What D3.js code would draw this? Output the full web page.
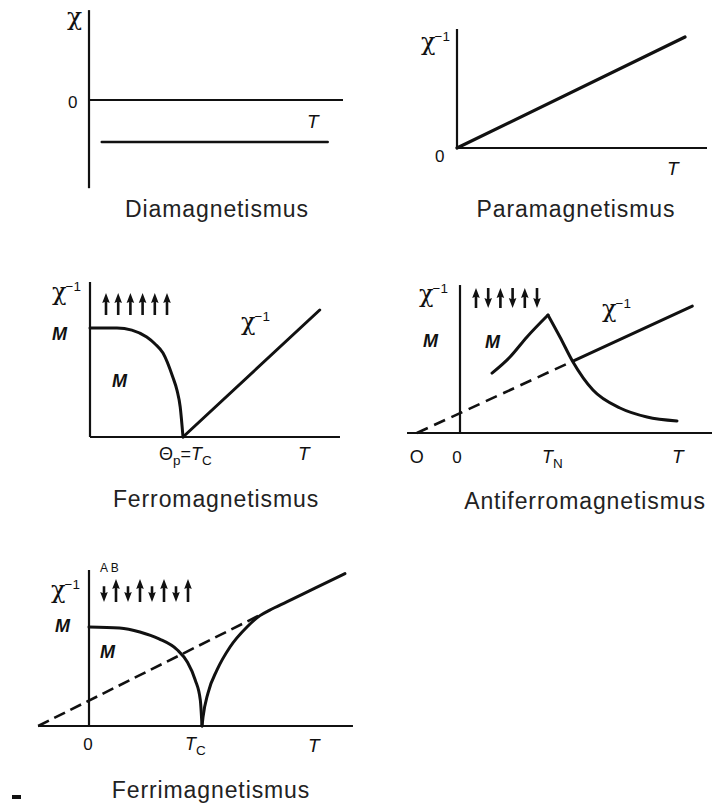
<!DOCTYPE html>
<html>
<head>
<meta charset="utf-8">
<script src="https://cdn.jsdelivr.net/npm/d3@7"></script>
<style>
  body { margin: 0; background: #fff; }
  svg { display: block; }
  .title { font-family: "Liberation Sans", Arial, sans-serif; font-size: 23px; letter-spacing: 0.9px; fill: #222; }
  .lbl { font-family: "Liberation Sans", Arial, sans-serif; fill: #111; }
  .chi { font-family: "DejaVu Serif", "Liberation Serif", serif; fill: #111; }
</style>
</head>
<body>
<svg id="chart" width="712" height="805"></svg>
<script>
// ---- Diamagnetism: chi constant and negative ----
const diaT = [0.05, 0.94];
const diaChi = [-1, -1];

// ---- Paramagnetism: 1/chi linear in T through the origin ----
const paraT = [0, 0.912];
const paraInvChi = [0, 1.11];

// ---- Ferromagnetism (T in units of Tc, M in units of M(0)) ----
const ferroT = [0, 0.29, 0.45, 0.61, 0.70, 0.785, 0.89, 0.935, 0.97, 1.0];
const ferroM = [1, 1, 0.98, 0.917, 0.853, 0.77, 0.55, 0.43, 0.275, 0];
const ferroInvT = [1, 2.47];
const ferroInvChi = [0, 1.165];
const ferroSpins = [1, 1, 1, 1, 1, 1];

// ---- Antiferromagnetism (T in units of T_N) ----
const afmTlow = [0.364, 0.568, 0.761, 1.0];
const afmMlow = [0.508, 0.644, 0.814, 1.0];
const afmThigh = [1.0, 1.136, 1.284, 1.511, 1.818, 2.125, 2.466];
const afmMhigh = [1.0, 0.814, 0.602, 0.364, 0.212, 0.136, 0.102];
const afmDashT = [-0.49, 1.284];
const afmDashChi = [0, 0.61];
const afmInvT = [1.284, 2.64];
const afmInvChi = [0.61, 1.076];
const afmSpins = [1, -1, 1, -1, 1, -1];

// ---- Ferrimagnetism (T in units of Tc) ----
const ferriT = [0, 0.27, 0.45, 0.62, 0.78, 0.87, 0.94, 0.985, 1.0];
const ferriM = [1, 0.99, 0.95, 0.88, 0.77, 0.646, 0.465, 0.263, 0];
const ferriInvT = [1.0, 1.009, 1.053, 1.133, 1.248, 1.398, 1.513, 1.6, 1.75, 2.0, 2.265];
const ferriInvChi = [0, 0.09, 0.333, 0.566, 0.798, 1.0, 1.115, 1.171, 1.254, 1.393, 1.54];
const ferriDashT = [-0.45, 1.50];
const ferriDashChi = [0, 1.113];
const ferriSpins = [-1, 1, -1, 1, -1, 1, -1, 1];
const ferriMoments = [0.68, 1, 0.68, 1, 0.68, 1, 0.68, 1];

const titles = ["Diamagnetismus", "Paramagnetismus", "Ferromagnetismus",
                "Antiferromagnetismus", "Ferrimagnetismus"];

const svg = d3.select("#chart");
const ink = "#111";

function zip(xs, ys) { return xs.map((x, i) => [x, ys[i]]); }

function drawLine(g, x, y, pts, opts = {}) {
  const gen = d3.line().x(d => x(d[0])).y(d => y(d[1]))
    .curve(opts.curve || d3.curveLinear);
  return g.append("path")
    .attr("d", gen(pts))
    .attr("fill", "none")
    .attr("stroke", ink)
    .attr("stroke-width", opts.width || 3)
    .attr("stroke-linecap", "round")
    .attr("stroke-linejoin", "round")
    .attr("stroke-dasharray", opts.dash || null);
}

function axes(g, x, y, xDom, yDom, yAt, xAt) {
  // horizontal axis at value yAt, vertical axis at value xAt
  g.append("line").attr("x1", x(xDom[0])).attr("x2", x(xDom[1]))
    .attr("y1", y(yAt)).attr("y2", y(yAt))
    .attr("stroke", ink).attr("stroke-width", 2.2);
  g.append("line").attr("x1", x(xAt)).attr("x2", x(xAt))
    .attr("y1", y(yDom[0])).attr("y2", y(yDom[1]))
    .attr("stroke", ink).attr("stroke-width", 2.2);
}

function chiInv(g, px, py, size = 24) {
  const t = g.append("text").attr("class", "chi").attr("x", px).attr("y", py)
    .attr("font-size", size);
  t.append("tspan").text("χ");
  t.append("tspan").attr("class", "lbl").attr("font-size", size * 0.56)
    .attr("dx", -1).attr("dy", -size * 0.38).text("−1");
  return t;
}

function label(g, px, py, txt, opts = {}) {
  return g.append("text").attr("class", "lbl").attr("x", px).attr("y", py)
    .attr("font-size", opts.size || 18)
    .attr("font-style", opts.italic ? "italic" : "normal")
    .attr("font-weight", opts.bold ? "bold" : "normal")
    .attr("text-anchor", opts.anchor || "start")
    .text(txt);
}

function subLabel(g, px, py, main, sub, opts = {}) {
  const t = g.append("text").attr("class", "lbl").attr("x", px).attr("y", py)
    .attr("font-size", opts.size || 18).attr("text-anchor", opts.anchor || "start");
  if (opts.prefix) t.append("tspan").text(opts.prefix);
  t.append("tspan").attr("font-style", "italic").text(main);
  t.append("tspan").attr("font-size", (opts.size || 18) * 0.75).attr("dy", 5).text(sub);
  if (opts.suffix) {
    t.append("tspan").attr("dy", -5).text(opts.suffix[0]);
    t.append("tspan").attr("font-style", "italic").text(opts.suffix[1]);
    t.append("tspan").attr("font-size", (opts.size || 18) * 0.75).attr("dy", 5).text(opts.suffix[2]);
  }
  return t;
}

// spin arrows: dir +1 up, -1 down; lens scales arrow length
function spins(g, xPos, dirs, lens, yBottom, fullLen) {
  const head = 10, hw = 3.8, sw = 1.3;
  dirs.forEach((d, i) => {
    const L = fullLen * (lens ? lens[i] : 1);
    const cx = xPos(i);
    const y0 = yBottom, y1 = yBottom - L;
    let p;
    if (d > 0) {
      p = `M${cx},${y1} L${cx + hw},${y1 + head} L${cx + sw},${y1 + head - 1} L${cx + sw},${y0} L${cx - sw},${y0} L${cx - sw},${y1 + head - 1} L${cx - hw},${y1 + head} Z`;
    } else {
      p = `M${cx},${y0} L${cx + hw},${y0 - head} L${cx + sw},${y0 - head + 1} L${cx + sw},${y1} L${cx - sw},${y1} L${cx - sw},${y0 - head + 1} L${cx - hw},${y0 - head} Z`;
    }
    g.append("path").attr("d", p).attr("fill", ink);
  });
}

// ================= Diamagnetism =================
{
  const g = svg.append("g");
  const x = d3.scaleLinear([0, 1], [89, 343]);
  const y = d3.scaleLinear([0, -1], [100, 142]);
  axes(g, x, y, [0, 1], [2.14, -2.1], 0, 0);
  drawLine(g, x, y, zip(diaT, diaChi), { width: 2.4 });
  g.append("text").attr("class", "chi").attr("x", 67).attr("y", 25)
    .attr("font-size", 25).text("χ");
  label(g, 68, 108, "0", { size: 17 });
  label(g, 307, 128, "T", { size: 19, italic: true });
  g.append("text").attr("class", "title").attr("x", 217).attr("y", 217)
    .attr("text-anchor", "middle").text(titles[0]);
}

// ================= Paramagnetism =================
{
  const g = svg.append("g");
  const x = d3.scaleLinear([0, 1], [457, 707]);
  const y = d3.scaleLinear([0, 1], [148, 48]);
  axes(g, x, y, [0, 1], [0, 1.19], 0, 0);
  drawLine(g, x, y, zip(paraT, paraInvChi), { width: 3.2 });
  chiInv(g, 421, 50);
  label(g, 435, 162, "0", { size: 17 });
  label(g, 667, 175, "T", { size: 19, italic: true });
  g.append("text").attr("class", "title").attr("x", 576).attr("y", 217)
    .attr("text-anchor", "middle").text(titles[1]);
}

// ================= Ferromagnetism =================
{
  const g = svg.append("g");
  const x = d3.scaleLinear([0, 1], [90, 183]);
  const y = d3.scaleLinear([0, 1], [437, 328]);
  axes(g, x, y, [0, 2.688], [0, 1.422], 0, 0);
  drawLine(g, x, y, zip(ferroT, ferroM), { curve: d3.curveMonotoneX });
  drawLine(g, x, y, zip(ferroInvT, ferroInvChi));
  const sx = d3.scaleLinear([0, ferroSpins.length - 1], [106, 167]);
  spins(g, sx, ferroSpins, null, 315, 22);
  chiInv(g, 52, 300);
  label(g, 52, 340, "M", { size: 18, italic: true, bold: true });
  label(g, 112, 387, "M", { size: 18, italic: true, bold: true });
  chiInv(g, 241, 330);
  subLabel(g, 159, 460, "", "p", { prefix: "Θ", size: 18, suffix: ["=", "T", "C"] });
  label(g, 298, 460, "T", { size: 19, italic: true });
  g.append("text").attr("class", "title").attr("x", 216).attr("y", 507)
    .attr("text-anchor", "middle").text(titles[2]);
}

// ================= Antiferromagnetism =================
{
  const g = svg.append("g");
  const x = d3.scaleLinear([0, 1], [460, 548]);
  const y = d3.scaleLinear([0, 1], [433, 315]);
  axes(g, x, y, [-0.602, 2.864], [0, 1.254], 0, 0);
  drawLine(g, x, y, zip(afmTlow, afmMlow), { curve: d3.curveMonotoneX });
  drawLine(g, x, y, zip(afmThigh, afmMhigh), { curve: d3.curveMonotoneX });
  drawLine(g, x, y, zip(afmDashT, afmDashChi), { width: 2.6, dash: "12,7" }).attr("stroke-linecap", "butt");
  drawLine(g, x, y, zip(afmInvT, afmInvChi));
  const sx = d3.scaleLinear([0, afmSpins.length - 1], [476, 537]);
  spins(g, sx, afmSpins, null, 308, 20);
  chiInv(g, 419, 302);
  label(g, 423, 347, "M", { size: 18, italic: true, bold: true });
  label(g, 485, 348, "M", { size: 18, italic: true, bold: true });
  chiInv(g, 602, 317);
  label(g, x(-0.49), 463, "O", { size: 18, anchor: "middle" });
  label(g, x(0) - 3, 463, "0", { size: 17, anchor: "middle" });
  subLabel(g, 542, 463, "T", "N", { size: 18 });
  label(g, 672, 463, "T", { size: 19, italic: true });
  g.append("text").attr("class", "title").attr("x", 585).attr("y", 509)
    .attr("text-anchor", "middle").text(titles[3]);
}

// ================= Ferrimagnetism =================
{
  const g = svg.append("g");
  const x = d3.scaleLinear([0, 1], [89, 202]);
  const y = d3.scaleLinear([0, 1], [726, 627]);
  axes(g, x, y, [-0.451, 2.336], [0, 1.576], 0, 0);
  drawLine(g, x, y, zip(ferriT, ferriM), { curve: d3.curveMonotoneX });
  drawLine(g, x, y, zip(ferriInvT, ferriInvChi), { curve: d3.curveMonotoneX });
  drawLine(g, x, y, zip(ferriDashT, ferriDashChi), { width: 2.6, dash: "12,6" }).attr("stroke-linecap", "butt");
  const sx = d3.scaleLinear([0, ferriSpins.length - 1], [104, 188]);
  spins(g, sx, ferriSpins, ferriMoments, 602, 23);
  chiInv(g, 51, 598);
  label(g, 100, 572, "A B", { size: 12 });
  label(g, 55, 632, "M", { size: 18, italic: true, bold: true });
  label(g, 100, 658, "M", { size: 18, italic: true, bold: true });
  label(g, 88, 750, "0", { size: 17, anchor: "middle" });
  subLabel(g, 185, 750, "T", "C", { size: 18 });
  label(g, 308, 752, "T", { size: 19, italic: true });
  g.append("text").attr("class", "title").attr("x", 211).attr("y", 798)
    .attr("text-anchor", "middle").text(titles[4]);
  g.append("rect").attr("x", 12).attr("y", 795).attr("width", 9).attr("height", 4).attr("fill", ink);
}
</script>
</body>
</html>
